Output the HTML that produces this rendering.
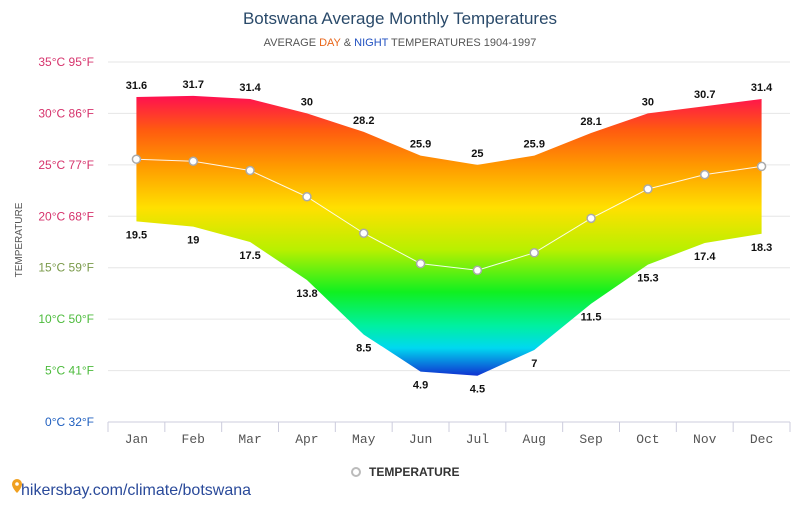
<!DOCTYPE html>
<html><head><meta charset="utf-8"><style>
body{margin:0;background:#fff;font-family:"Liberation Sans",sans-serif;}
svg text{font-family:"Liberation Sans",sans-serif;}
</style></head><body>
<svg id="chart" width="800" height="500" viewBox="0 0 800 500">
<defs>
<linearGradient id="tg" gradientUnits="userSpaceOnUse" x1="0" y1="96" x2="0" y2="376">
<stop offset="0" stop-color="#ff1050"/>
<stop offset="0.12" stop-color="#ff5a10"/>
<stop offset="0.25" stop-color="#ff9a00"/>
<stop offset="0.4" stop-color="#ffe000"/>
<stop offset="0.55" stop-color="#b8f000"/>
<stop offset="0.7" stop-color="#10f020"/>
<stop offset="0.82" stop-color="#00f0a0"/>
<stop offset="0.9" stop-color="#00d8f0"/>
<stop offset="1" stop-color="#1030d0"/>
</linearGradient>
</defs>
<text x="400" y="24" text-anchor="middle" font-size="17" fill="#2a4a6a">Botswana Average Monthly Temperatures</text>
<text x="400" y="46" text-anchor="middle" font-size="11" fill="#555">AVERAGE <tspan fill="#e8661a">DAY</tspan> &amp; <tspan fill="#2050c0">NIGHT</tspan> TEMPERATURES 1904-1997</text>
<text x="22" y="240" text-anchor="middle" font-size="10" fill="#555" transform="rotate(-90 22 240)">TEMPERATURE</text>
<g id="grid"></g>
<g id="area"></g>
<g id="labels"></g>
<g id="xaxis"></g>
<circle cx="356" cy="472" r="4" fill="#fff" stroke="#bbb" stroke-width="2"/>
<text x="369" y="476" font-size="12" font-weight="bold" fill="#333">TEMPERATURE</text>
<path d="M12 484 a5 5 0 0 1 10 0 c0 4 -5 9 -5 9 c0 0 -5 -5 -5 -9z" fill="#f0a020"/>
<circle cx="17" cy="484" r="1.8" fill="#fff"/>
<text x="21" y="495" font-size="16" fill="#2a4a9a">hikersbay.com/climate/botswana</text>
</svg>
<script>
const months=["Jan","Feb","Mar","Apr","May","Jun","Jul","Aug","Sep","Oct","Nov","Dec"];
const highs=[31.6,31.7,31.4,30,28.2,25.9,25,25.9,28.1,30,30.7,31.4];
const lows=[19.5,19,17.5,13.8,8.5,4.9,4.5,7,11.5,15.3,17.4,18.3];
const yTicksC=[0,5,10,15,20,25,30,35];
const yTicksF=[32,41,50,59,68,77,86,95];
const yTickColors=["#1f5fbf","#4cbb3c","#4cbb3c","#7a9a4a","#d6336c","#d6336c","#d6336c","#d6336c"];
const NS="http://www.w3.org/2000/svg";
const x0=108,x1=790,band=(x1-x0)/12;
const xs=i=>x0+band*(i+0.5);
const ys=v=>422-v*10.286;
function mk(t,a,p){const e=document.createElementNS(NS,t);for(const k in a)e.setAttribute(k,a[k]);p.appendChild(e);return e;}
const grid=document.getElementById('grid');
yTicksC.forEach((c,i)=>{
 if(i>0){const l=mk('line',{x1:x0,x2:x1,y1:ys(c),y2:ys(c),stroke:'#e6e6e6'},grid);
 
 }
 const t=mk('text',{x:94,y:ys(c)+4,'text-anchor':'end','font-size':12,fill:yTickColors[i]},grid);
 t.textContent=c+'°C '+yTicksF[i]+'°F';
 
 
});
const area=document.getElementById('area');
let d='M'+highs.map((v,i)=>xs(i)+' '+ys(v)).join(' L ');
for(let i=lows.length-1;i>=0;i--)d+=' L '+xs(i)+' '+ys(lows[i]);
const ar=mk('path',{d:d+'Z',fill:'url(#tg)'},area);


const means=highs.map((h,i)=>(h+lows[i])/2);
const ml=mk('polyline',{points:means.map((v,i)=>xs(i)+','+ys(v)).join(' '),fill:'none',stroke:'#fff','stroke-width':1,opacity:0.9},area);


means.forEach((v,i)=>{const c=mk('circle',{cx:xs(i),cy:ys(v),r:4,fill:'#fff',stroke:'#aaa','stroke-width':1.5},area);
 
 });
const lab=document.getElementById('labels');
highs.forEach((v,i)=>{const t=mk('text',{x:xs(i),y:ys(v)-8,'text-anchor':'middle','font-size':11,'font-weight':'bold',fill:'#111'},lab);
 t.textContent=v;
 
 });
lows.forEach((v,i)=>{const t=mk('text',{x:xs(i),y:ys(v)+17,'text-anchor':'middle','font-size':11,'font-weight':'bold',fill:'#111'},lab);
 t.textContent=v;
 
 });
const xa=document.getElementById('xaxis');
const al=mk('line',{x1:x0,x2:x1,y1:422,y2:422,stroke:'#ccd'},xa);


for(let i=0;i<=12;i++){mk('line',{x1:x0+band*i,x2:x0+band*i,y1:422,y2:432,stroke:'#ccd'},xa);}
months.forEach((m,i)=>{const t=mk('text',{x:xs(i),y:443,'text-anchor':'middle','font-size':13,fill:'#555',style:'font-family:"Liberation Mono",monospace'},xa);
 t.textContent=m;
 
 });
</script>
</body></html>
